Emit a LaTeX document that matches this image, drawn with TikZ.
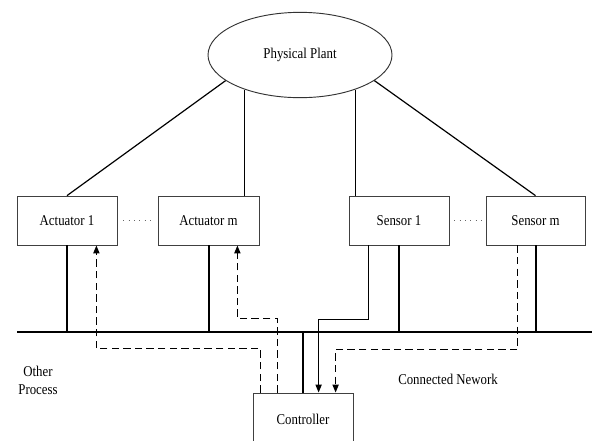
\documentclass[tikz,border=0pt]{standalone}
\usepackage{fontspec}
\setmainfont{Liberation Serif}[FakeStretch=0.86]
\usetikzlibrary{shapes.geometric,arrows.meta,calc}
\tikzset{
  box/.style={draw=black!75,line width=0.6pt,rectangle,inner sep=0pt,minimum height=36.75pt},
  thickln/.style={line width=1.5pt},
  busln/.style={line width=2pt},
  plantln/.style={line width=0.9pt},
  dsh/.style={dashed,line width=1.1pt,dash pattern=on 5.5pt off 3.2pt,-{Triangle[length=6pt,width=4.6pt]}},
  sol/.style={line width=1pt,-{Triangle[length=6pt,width=4.6pt]}},
  dotln/.style={draw=black!60,line width=0.8pt,dash pattern=on 0.8pt off 3.2pt},
  lbl/.style={font=\fontsize{11.2pt}{13.5pt}\selectfont},
}
\begin{document}
\begin{tikzpicture}[x=0.75pt,y=-0.75pt,every node/.style={lbl}]
\useasboundingbox (0,0) rectangle (592,440);
\node[draw=black!80,line width=0.7pt,ellipse,inner sep=0pt,minimum width=138pt,minimum height=64pt] (plant) at (300,55) {Physical Plant};
\node[box,minimum width=75pt] (a1) at (67,220.5) {Actuator 1};
\node[box,minimum width=75.75pt] (am) at (208.5,220.5) {Actuator m};
\node[box,minimum width=75pt] (s1) at (399,220.5) {Sensor 1};
\node[box,minimum width=74.25pt] (sm) at (535.5,220.5) {Sensor m};
\node[box,minimum width=75pt,minimum height=39pt] (ctrl) at (303,419) {Controller};
\coordinate (busL) at (17,332);
\coordinate (busR) at (592,332);
\node[align=center] (other) at (38,380) {Other\\Process};
\node (net) at (448,379) {Connected Nework};
% plant connections
\draw[plantln] (plant.199.4) -- (a1.north);
\draw[plantln] (plant.212.1) -- (plant.212.1 |- am.north);
\draw[plantln] (plant.328.7) -- (plant.328.7 |- s1.north);
\draw[plantln] (plant.341.1) -- (sm.north);
% dotted
\draw[dotln] ($(a1.east)+(6,0)$) -- ($(am.west)+(-6,0)$);
\draw[dotln] ($(s1.east)+(5,0)$) -- ($(sm.west)+(-3,0)$);
% bus
\draw[busln] (busL) -- (busR);
\draw[thickln] (a1.south) -- (a1.south |- busL);
\draw[thickln] (am.south) -- (am.south |- busL);
\draw[thickln] (s1.south) -- (s1.south |- busL);
\draw[thickln] (sm.south) -- (sm.south |- busL);
\draw[thickln] (ctrl.north) -- (ctrl.north |- busL);
% signal paths
\draw[dsh] ($(ctrl.north west)+(8,0)$) -- ++(0,-44) -| ($(a1.south east)+(-21,0)$);
\draw[dsh] ($(ctrl.north west)+(25,0)$) -- ++(0,-74) -| ($(am.south east)+(-22,0)$);
\draw[sol] ($(s1.south west)+(20,0)$) -- ++(0,74) -| ($(ctrl.north west)+(66,0)$);
\draw[dsh] ($(sm.south west)+(32,0)$) -- ++(0,104) -| ($(ctrl.north west)+(83,0)$);
\end{tikzpicture}
\end{document}
